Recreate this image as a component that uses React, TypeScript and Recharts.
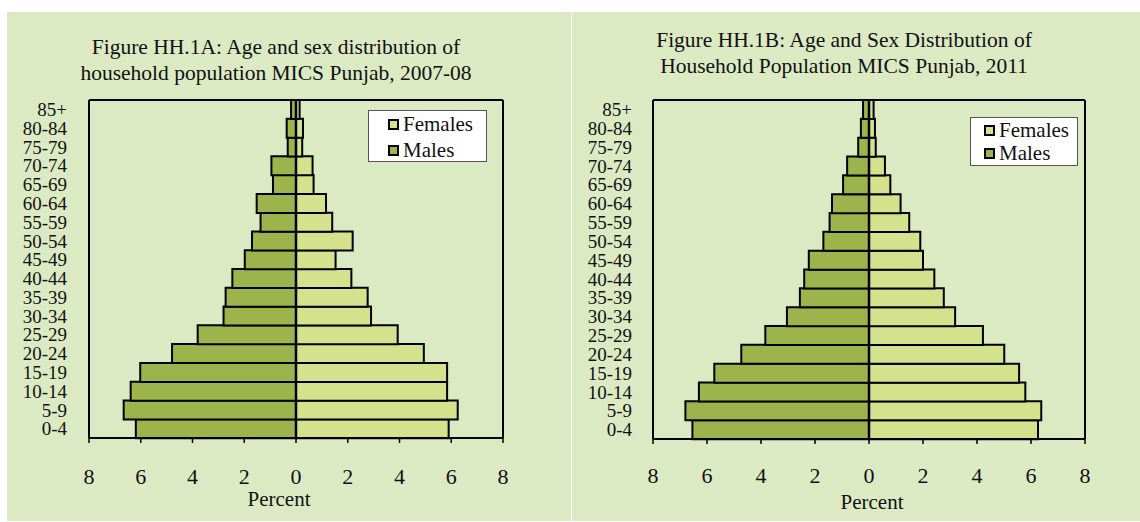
import React from "react";
import { BarChart, Bar, XAxis, YAxis, ReferenceLine, Legend } from "recharts";

const AGES = ["0-4", "5-9", "10-14", "15-19", "20-24", "25-29", "30-34", "35-39", "40-44", "45-49", "50-54", "55-59", "60-64", "65-69", "70-74", "75-79", "80-84", "85+"];
const MALES_2007 = [6.19, 6.66, 6.39, 6.02, 4.79, 3.8, 2.8, 2.72, 2.46, 1.98, 1.7, 1.37, 1.52, 0.89, 0.95, 0.32, 0.36, 0.19];
const FEMALES_2007 = [5.9, 6.25, 5.84, 5.84, 4.94, 3.93, 2.9, 2.77, 2.14, 1.53, 2.19, 1.4, 1.16, 0.68, 0.64, 0.24, 0.27, 0.14];
const MALES_2011 = [6.54, 6.8, 6.3, 5.73, 4.73, 3.84, 3.04, 2.56, 2.4, 2.23, 1.69, 1.46, 1.37, 0.96, 0.81, 0.4, 0.3, 0.22];
const FEMALES_2011 = [6.26, 6.38, 5.79, 5.56, 5.01, 4.22, 3.19, 2.77, 2.42, 2.0, 1.9, 1.49, 1.17, 0.79, 0.59, 0.25, 0.22, 0.17];
const X_TICKS = [-8, -6, -4, -2, 0, 2, 4, 6, 8];
const TITLE_A = ["Figure HH.1A: Age and sex distribution of", "household population MICS Punjab, 2007-08"];
const TITLE_B = ["Figure HH.1B: Age and Sex Distribution of", "Household Population MICS Punjab, 2011"];

const FONT = '"Liberation Serif", "Times New Roman", serif';
const BG = "#DCEAC4";
const MALE_COLOR = "#9DB34B";
const FEMALE_COLOR = "#D4E18D";

type PanelCfg = {
  left: number;
  width: number;
  title: string[];
  titleTop: number;
  titleCenter: number;
  margin: { top: number; right: number; bottom: number; left: number };
  yWidth: number;
  yGap: number;
  tickMargin: number;
  percentTop: number;
  percentCenter: number;
  legend: { left: number; top: number; width: number; height: number; sqLeft: number; rowH: number; padTop: number };
  males: number[];
  females: number[];
};

const makeData = (m: number[], f: number[]) =>
  AGES.map((age, i) => ({ age, males: -m[i], females: f[i] }));

function LegendBox(props: any) {
  const { payload, cfg } = props;
  const items = [...(payload || [])].sort((a: any, b: any) => (a.value === "Females" ? -1 : b.value === "Females" ? 1 : 0));
  return (
    <div
      style={{
        width: cfg.width,
        height: cfg.height,
        boxSizing: "border-box",
        background: "#fff",
        border: "1px solid #555",
        paddingTop: cfg.padTop,
        fontFamily: FONT,
        fontSize: 21,
        color: "#111",
        textAlign: "left",
      }}
    >
      {items.map((it: any) => (
        <div key={it.value} style={{ height: cfg.rowH, display: "flex", alignItems: "center", paddingLeft: cfg.sqLeft }}>
          <span
            style={{
              display: "inline-block",
              width: 11,
              height: 11,
              boxSizing: "border-box",
              border: "2px solid #000",
              background: it.color,
              marginRight: 4,
            }}
          />
          <span style={{ lineHeight: `${cfg.rowH}px` }}>{it.value}</span>
        </div>
      ))}
    </div>
  );
}

function Panel({ cfg }: { cfg: PanelCfg }) {
  const data = makeData(cfg.males, cfg.females);
  const H = 509;
  return (
    <div style={{ position: "absolute", left: cfg.left, top: 12, width: cfg.width, height: H, background: BG }}>
      <div
        style={{
          position: "absolute",
          top: cfg.titleTop,
          left: cfg.titleCenter - 300,
          width: 600,
          textAlign: "center",
          fontFamily: FONT,
          fontSize: 21.5,
          lineHeight: "26px",
          color: "#111",
          zIndex: 2,
        }}
      >
        {cfg.title.map((t) => (
          <div key={t}>{t}</div>
        ))}
      </div>
      <BarChart
        width={cfg.width}
        height={H}
        data={data}
        layout="vertical"
        stackOffset="sign"
        barCategoryGap={0}
        margin={cfg.margin}
      >
        <XAxis
          type="number"
          domain={[-8, 8]}
          ticks={X_TICKS}
          tickFormatter={(v: number) => String(Math.abs(v))}
          axisLine={{ stroke: "#000", strokeWidth: 2 }}
          tickLine={{ stroke: "#000", strokeWidth: 1.5 }}
          tickSize={5}
          tickMargin={cfg.tickMargin}
          height={60}
          tick={{ fill: "#111", fontFamily: FONT, fontSize: 22 }}
          interval={0}
        />
        <XAxis
          xAxisId="top"
          orientation="top"
          type="number"
          domain={[-8, 8]}
          ticks={X_TICKS}
          tick={false}
          tickLine={false}
          axisLine={{ stroke: "#000", strokeWidth: 2 }}
          height={1}
        />
        <YAxis
          type="category"
          dataKey="age"
          reversed
          width={cfg.yWidth}
          axisLine={{ stroke: "#000", strokeWidth: 2 }}
          tickLine={false}
          tickSize={0}
          tickMargin={cfg.yGap}
          interval={0}
          tick={{ fill: "#111", fontFamily: FONT, fontSize: 19 }}
        />
        <YAxis
          yAxisId="right"
          orientation="right"
          type="category"
          dataKey="age"
          reversed
          width={1}
          tick={false}
          tickLine={false}
          axisLine={{ stroke: "#000", strokeWidth: 2 }}
        />
        <Legend
          verticalAlign="middle"
          align="center"
          layout="horizontal"
          wrapperStyle={{ position: "absolute", left: cfg.legend.left, top: cfg.legend.top, width: cfg.legend.width, height: cfg.legend.height, margin: 0, padding: 0 }}
          content={(p: any) => <LegendBox payload={p.payload} cfg={cfg.legend} />}
        />
        <Bar dataKey="males" name="Males" stackId="s" fill={MALE_COLOR} stroke="#000" strokeWidth={2} isAnimationActive={false} />
        <Bar dataKey="females" name="Females" stackId="s" fill={FEMALE_COLOR} stroke="#000" strokeWidth={2} isAnimationActive={false} />
        <ReferenceLine x={0} stroke="#000" strokeWidth={2.5} />
      </BarChart>
      <div
        style={{
          position: "absolute",
          top: cfg.percentTop,
          left: cfg.percentCenter - 60,
          width: 120,
          textAlign: "center",
          fontFamily: FONT,
          fontSize: 21,
          lineHeight: "20px",
          color: "#111",
        }}
      >
        Percent
      </div>
    </div>
  );
}

const PANEL_A: PanelCfg = {
  left: 7,
  width: 564,
  title: TITLE_A,
  titleTop: 22,
  titleCenter: 269,
  margin: { top: 87, right: 67, bottom: 23, left: 0 },
  yWidth: 82,
  yGap: 22,
  tickMargin: 25,
  percentTop: 477,
  percentCenter: 272,
  legend: { left: 361, top: 98, width: 119, height: 52, sqLeft: 19, rowH: 26, padTop: 0 },
  males: MALES_2007,
  females: FEMALES_2007,
};

const PANEL_B: PanelCfg = {
  left: 572,
  width: 568,
  title: TITLE_B,
  titleTop: 15,
  titleCenter: 272,
  margin: { top: 87, right: 54, bottom: 22, left: 0 },
  yWidth: 81,
  yGap: 21,
  tickMargin: 23,
  percentTop: 480,
  percentCenter: 300,
  legend: { left: 398, top: 105, width: 108, height: 49, sqLeft: 13, rowH: 23, padTop: 1 },
  males: MALES_2011,
  females: FEMALES_2011,
};

export default function App() {
  return (
    <div style={{ position: "absolute", left: 0, top: 0, width: 1140, height: 522, background: "#fff", overflow: "hidden" }}>
      <Panel cfg={PANEL_A} />
      <Panel cfg={PANEL_B} />
    </div>
  );
}
